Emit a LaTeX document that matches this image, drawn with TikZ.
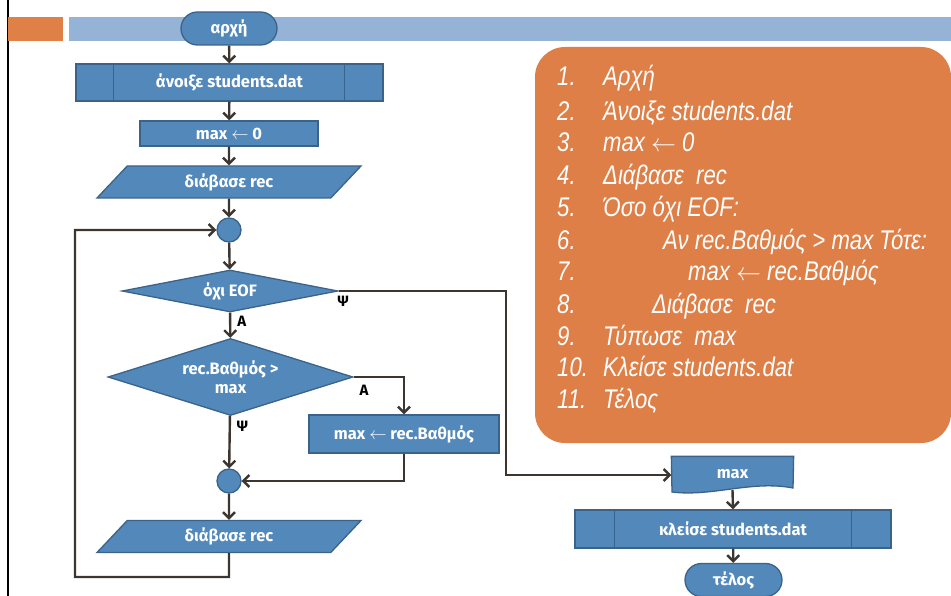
\documentclass[tikz,border=0pt]{standalone}
\usepackage{fontspec}
\setmainfont{Fira Sans}
\newfontfamily\listfont[FakeStretch=0.82]{Liberation Sans}
\usetikzlibrary{shapes.geometric,shapes.misc,arrows.meta,backgrounds}

\definecolor{shapefill}{HTML}{5288BA}
\definecolor{shapeedge}{HTML}{3B6389}
\definecolor{linkcol}{HTML}{3D3530}
\definecolor{barblue}{HTML}{95B3D7}
\definecolor{barorange}{HTML}{DF8047}
\definecolor{listorange}{HTML}{DD7F47}

\tikzset{
  fc/.style={draw=shapeedge, line width=1.3pt, fill=shapefill, text=white,
    font=\bfseries\fontsize{16.5}{19}\selectfont, inner sep=0pt, align=center},
  term/.style={fc, rounded rectangle, minimum width=96, minimum height=33},
  proc/.style={fc, rectangle},
  io/.style={fc, trapezium, trapezium left angle=30, trapezium right angle=150,
    trapezium stretches body, minimum width=264, minimum height=32},
  joint/.style={fc, circle, minimum size=24},
  decision/.style={fc, diamond},
  link/.style={draw=linkcol, line width=2.4pt, -{Straight Barb[length=6pt,width=12pt,line width=2.4pt]}},
  yn/.style={font=\bfseries\fontsize{15}{17}\selectfont, text=black, inner sep=0pt},
  listline/.style={anchor=base west, text=white, inner sep=0pt,
    font=\listfont\itshape\fontsize{27}{30}\selectfont},
}

\begin{document}
\begin{tikzpicture}[x=1pt, y=-1pt]
  \useasboundingbox (0,0) rectangle (951,596);

  % page decoration: left rule and header bars
  \draw[black, line width=2.5pt] (8,0) -- (8,596);
  \fill[barorange] (8,17) rectangle (63,41);
  \fill[barblue] (69,17) rectangle (951,41);

  % pseudocode panel
  \fill[listorange, rounded corners=30] (535,47) rectangle (951,443);
  \foreach \n/\y/\x/\t in {
      1./86/603/Αρχή,
      2./121/603/Άνοιξε students.dat,
      3./152/603/max $\leftarrow$ 0,
      4./185/603/Διάβασε~ rec,
      5./217/603/Όσο όχι EOF:,
      6./250/663/Αν rec.Βαθμός > max Τότε:,
      7./281/688/max $\leftarrow$ rec.Βαθμός,
      8./313/652/Διάβασε~ rec,
      9./345/603/Τύπωσε~ max,
      10./376/603/Κλείσε students.dat,
      11./408/603/Τέλος} {
    \node[listline] (num\n) at (557,\y) {\n};
    \node[listline] (txt\n) at (\x,\y) {\t};
  }

  % main flow, left column
  \node[term] (start) at (229,28.5) {αρχή};
  \node[proc, minimum width=307, minimum height=37] (open) at (229.5,82.5) {άνοιξε students.dat};
  \draw[shapeedge, line width=1.3pt] ([xshift=38]open.north west) -- ([xshift=38]open.south west)
    ([xshift=-39]open.north east) -- ([xshift=-39]open.south east);
  \node[proc, minimum width=178, minimum height=25] (init) at (229,133.5) {max $\leftarrow$ 0};
  \node[io] (read1) at (229,182) {διάβασε rec};
  \node[joint] (j1) at (229,230) {};
  \node[decision, minimum width=216, minimum height=42, aspect=5] (eof) at (230,291) {όχι EOF};
  \node[decision, minimum width=245, minimum height=77, aspect=3.2] (cmp) at (230.5,377)
    {rec.Βαθμός >\\max};
  \node[proc, minimum width=190, minimum height=38] (upd) at (404,434)
    {max $\leftarrow$ rec.Βαθμός};
  \node[joint] (j2) at (229,481) {};
  \node[io] (read2) at (229,536.5) {διάβασε rec};

  % output, close and end, right column
  \node[fc, draw=none, fill=none, minimum width=121, minimum height=34] (out) at (732.5,474) {max};
  \begin{scope}[on background layer]
    \filldraw[draw=shapeedge, line width=1.3pt, fill=shapefill]
      (out.north west) -- (out.north east) -- (793,488)
      .. controls (752,480) and (712,497) .. (672,492) -- cycle;
  \end{scope}
  \node[proc, minimum width=316, minimum height=38] (close) at (733,529) {κλείσε students.dat};
  \draw[shapeedge, line width=1.3pt] ([xshift=40]close.north west) -- ([xshift=40]close.south west)
    ([xshift=-40]close.north east) -- ([xshift=-40]close.south east);
  \node[term, minimum width=97] (stop) at (733.5,580) {τέλος};

  % connectors
  \coordinate (eofR) at (506,291);
  \coordinate (outL) at (506,475);
  \coordinate (cmpR) at (404,377);
  \coordinate (updB) at (404,481);
  \coordinate (loopB) at (229,577);
  \coordinate (loopL) at (75,577);
  \coordinate (loopT) at (75,230);

  \draw[link] (start) -- (open);
  \draw[link] (open) -- (init);
  \draw[link] (init) -- (read1);
  \draw[link] (read1) -- (j1);
  \draw[link] (j1) -- (eof);
  \draw[link] (eof) -- node[yn, right, xshift=6pt, pos=0.35] {Α} (cmp);
  \draw[link] (eof.east) -- (eofR) -- (outL) -- (outL -| out.west);
  \node[yn] (eofno) at (343,301) {Ψ};
  \draw[link] (cmp.east) -- (cmpR) -- (upd.north);
  \node[yn] (cmpyes) at (364,390) {Α};
  \draw[link] (cmp) -- node[yn, right, xshift=6pt, pos=0.2] {Ψ} (j2);
  \draw[link] (upd.south) -- (updB) -- (j2.east);
  \draw[link] (j2) -- (read2);
  \draw[link] (read2.south) -- (loopB) -- (loopL) -- (loopT) -- (j1.west);
  \draw[link] (out.south |- 0,490) -- (close.north);
  \draw[link] (close) -- (stop);
\end{tikzpicture}
\end{document}
